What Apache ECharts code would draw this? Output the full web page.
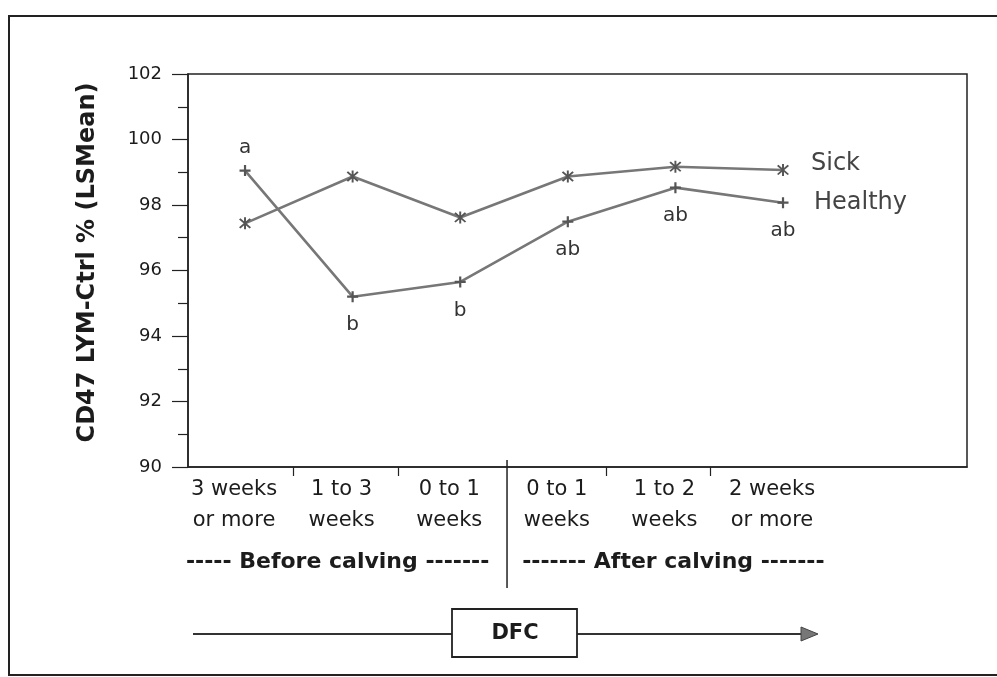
<!DOCTYPE html>
<html>
<head>
<meta charset="utf-8">
<script src="https://cdn.jsdelivr.net/npm/echarts@6/dist/echarts.min.js"></script>
<style>html,body{margin:0;padding:0;background:#fff;}#c{width:997px;height:677px;}</style>
</head>
<body>
<div id="c"></div>
<script>
// ---- data ----
const categories = ['3 weeks\nor more', '1 to 3\nweeks', '0 to 1\nweeks', '0 to 1\nweeks', '1 to 2\nweeks', '2 weeks\nor more'];
const sickValues = [97.44, 98.87, 97.62, 98.87, 99.17, 99.07];
const healthyValues = [99.05, 95.2, 95.65, 97.49, 98.53, 98.07];
const healthyLetters = ['a', 'b', 'b', 'ab', 'ab', 'ab'];
const yTicks = [90, 92, 94, 96, 98, 100, 102];
const tickPositions = [0.446, 1.422, 3.355, 4.32];
const dividerPosition = 2.435;
const groupLabels = ['----- Before calving -------', '------- After calving -------'];
const timelineLabel = 'DFC';

const FONT = 'DejaVu Sans';
const INK = '#1c1c1c';
const LINE = '#777777';

const plusPath = 'path://M4,0H6V10H4Z M0,4H10V6H0Z';
const starPath = 'path://M4.3,0H5.7V10H4.3Z M0.7,1.7L1.7,0.7L9.3,8.3L8.3,9.3Z M8.3,0.7L9.3,1.7L1.7,9.3L0.7,8.3Z';

const chart = echarts.init(document.getElementById('c'), null, {renderer: 'canvas'});

const idx = categories.map((_, i) => i);

chart.setOption({
  animation: false,
  backgroundColor: '#ffffff',
  grid: {left: 188, right: 30, top: 74, bottom: 210, show: true, borderColor: '#222', borderWidth: 1.5, backgroundColor: 'transparent'},
  xAxis: {
    type: 'value', min: -0.53, max: 6.71,
    axisLine: {show: true, onZero: false, lineStyle: {color: '#222', width: 1.5}},
    axisTick: {show: true, customValues: tickPositions, length: 9, lineStyle: {color: '#222', width: 1.2}},
    axisLabel: {
      customValues: idx, margin: 7,
      formatter: v => categories[Math.round(v)],
      fontFamily: FONT, fontSize: 21, lineHeight: 31, color: INK,
      align: 'center', padding: [0, 22, 0, 0]
    },
    splitLine: {show: false}
  },
  yAxis: {
    type: 'value', min: yTicks[0], max: yTicks[yTicks.length - 1], interval: 2,
    name: 'CD47 LYM-Ctrl % (LSMean)', nameLocation: 'middle', nameRotate: 90, nameGap: 88,
    nameTextStyle: {fontFamily: FONT, fontWeight: 'bold', fontSize: 24, color: INK, padding: [0, 0, 0, 16]},
    axisLine: {show: true, onZero: false, lineStyle: {color: '#222', width: 1.5}},
    axisTick: {show: true, inside: false, length: 16, lineStyle: {color: '#222', width: 1.2}},
    minorTick: {show: true, splitNumber: 2, length: 10, lineStyle: {color: '#222', width: 1.2}},
    axisLabel: {margin: 26, fontFamily: FONT, fontSize: 18, color: INK},
    splitLine: {show: false}
  },
  series: [
    {
      name: 'Sick', type: 'line',
      data: sickValues.map((v, i) => [i, v]),
      symbol: starPath, symbolSize: 12,
      lineStyle: {color: LINE, width: 2.6},
      itemStyle: {color: '#555'},
      endLabel: {show: true, formatter: 'Sick', distance: 28, offset: [0, -6], fontFamily: FONT, fontSize: 24, color: '#444'}
    },
    {
      name: 'Healthy', type: 'line',
      data: healthyValues.map((v, i) => ({
        value: [i, v],
        label: i === 0 ? {position: 'top', distance: 7} : {position: 'bottom', distance: 13}
      })),
      symbol: plusPath, symbolSize: 11,
      lineStyle: {color: LINE, width: 2.6},
      itemStyle: {color: '#555'},
      label: {
        show: true, fontFamily: FONT, fontSize: 20, color: '#333',
        formatter: p => healthyLetters[p.dataIndex]
      },
      endLabel: {show: true, formatter: 'Healthy', distance: 31, fontFamily: FONT, fontSize: 24, color: '#444'}
    }
  ]
});

const dx = chart.convertToPixel({xAxisIndex: 0}, dividerPosition);
const g0 = chart.convertToPixel({xAxisIndex: 0}, 1);
const g1 = chart.convertToPixel({xAxisIndex: 0}, 4);

chart.setOption({
  graphic: [
    {type: 'rect', shape: {x: 9, y: 16, width: 1000, height: 659}, style: {fill: 'none', stroke: '#222', lineWidth: 2}, silent: true},
    {type: 'line', shape: {x1: dx, y1: 460, x2: dx, y2: 588}, style: {stroke: '#222', lineWidth: 1.5}},
    {type: 'text', x: g0 - 15, y: 562, style: {text: groupLabels[0], fontFamily: FONT, fontWeight: 'bold', fontSize: 22, fill: INK, align: 'center', verticalAlign: 'middle'}},
    {type: 'text', x: g1 - 2, y: 562, style: {text: groupLabels[1], fontFamily: FONT, fontWeight: 'bold', fontSize: 22, fill: INK, align: 'center', verticalAlign: 'middle'}},
    {type: 'line', shape: {x1: 193, y1: 634, x2: 804, y2: 634}, style: {stroke: '#333', lineWidth: 2.2}},
    {type: 'polygon', shape: {points: [[801, 627], [818, 634], [801, 641]]}, style: {fill: '#777', stroke: '#444', lineWidth: 1}},
    {type: 'rect', shape: {x: 452, y: 609, width: 125, height: 48}, style: {fill: '#fff', stroke: '#222', lineWidth: 1.8}},
    {type: 'text', x: 515, y: 634, style: {text: timelineLabel, fontFamily: FONT, fontWeight: 'bold', fontSize: 21, fill: INK, align: 'center', verticalAlign: 'middle'}}
  ]
});
</script>
</body>
</html>
